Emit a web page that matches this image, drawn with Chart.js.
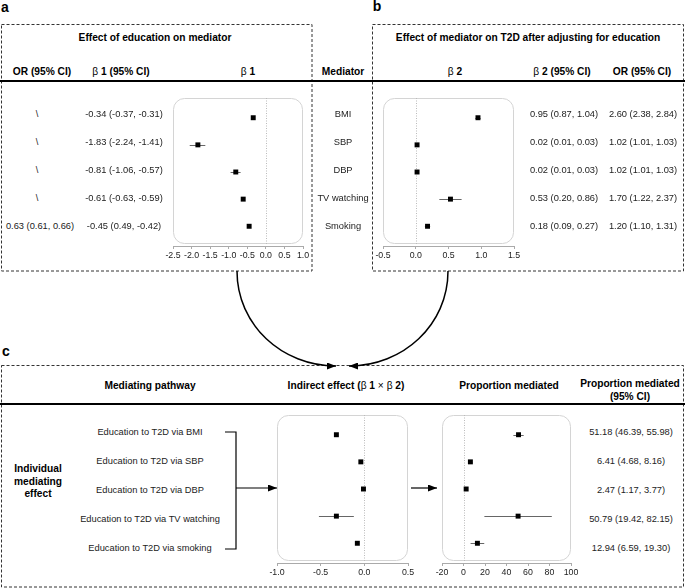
<!DOCTYPE html>
<html>
<head>
<meta charset="utf-8">
<script src="https://cdn.jsdelivr.net/npm/chart.js@4.4.1/dist/chart.umd.min.js"></script>
<style>
body { margin: 0; background: #fff; }
#fig { position: relative; width: 685px; height: 588px; font-family: "Liberation Sans", Arial, sans-serif; color: #222; overflow: hidden; }
.t { position: absolute; white-space: nowrap; transform: translate(-50%, -50%); font-size: 9.3px; line-height: 1; }
.h { font-weight: bold; font-size: 10.2px; color: #000; }
.h span { font-weight: normal; }
.p { font-weight: bold; font-size: 14px; color: #000; }
canvas { position: absolute; }
svg { position: absolute; left: 0; top: 0; }
</style>
</head>
<body>
<div id="fig">
<svg width="685" height="588">
  <defs>
    <marker id="ah" markerWidth="9" markerHeight="7" refX="9" refY="3.5" orient="auto" markerUnits="userSpaceOnUse">
      <path d="M0,0 L9,3.5 L0,7 z" fill="#000"/>
    </marker>
  </defs>
  <g fill="none" stroke="#333" stroke-width="1" stroke-dasharray="3,2">
    <rect x="1.5" y="24.5" width="310.5" height="246.5"/>
    <rect x="372.5" y="24.5" width="311" height="246.5"/>
    <rect x="1.5" y="365.5" width="682" height="221.5"/>
  </g>
  <g stroke="#000" stroke-width="2">
    <line x1="0" y1="81" x2="685" y2="81"/>
    <line x1="0" y1="404" x2="685" y2="404"/>
  </g>
  <g fill="none" stroke="#000" stroke-width="1.5">
    <path d="M237,271 C237,325 282,366 336,366" marker-end="url(#ah)"/>
    <path d="M448,271 C448,325 403,366 349,366" marker-end="url(#ah)"/>
  </g>
  <g fill="none" stroke="#000" stroke-width="1.2">
    <polyline points="225,432 236,432 236,549 225,549"/>
    <line x1="236" y1="488" x2="277" y2="488" marker-end="url(#ah)"/>
    <line x1="411" y1="488" x2="437" y2="488" marker-end="url(#ah)"/>
  </g>
</svg>
</div>
<script>
// ---- data ----
var mediators = ['BMI', 'SBP', 'DBP', 'TV watching', 'Smoking'];
var pathways = ['Education to T2D via BMI', 'Education to T2D via SBP', 'Education to T2D via DBP',
                'Education to T2D via TV watching', 'Education to T2D via smoking'];

// panel a: education -> mediator
var beta1 = [-0.34, -1.83, -0.81, -0.61, -0.45];
var beta1Lo = [-0.37, -2.05, -0.95, -0.63, -0.49];
var beta1Hi = [-0.31, -1.63, -0.68, -0.59, -0.42];
var beta1Text = ['-0.34 (-0.37, -0.31)', '-1.83 (-2.24, -1.41)', '-0.81 (-1.06, -0.57)', '-0.61 (-0.63, -0.59)', '-0.45 (0.49, -0.42)'];
var or1Text = ['\\', '\\', '\\', '\\', '0.63 (0.61, 0.66)'];
var ticksA = [-2.5, -2.0, -1.5, -1.0, -0.5, 0.0, 0.5, 1.0];

// panel b: mediator -> T2D
var beta2 = [0.95, 0.02, 0.02, 0.53, 0.18];
var beta2Lo = [0.91, 0.01, 0.01, 0.36, 0.14];
var beta2Hi = [0.99, 0.03, 0.03, 0.70, 0.22];
var beta2Text = ['0.95 (0.87, 1.04)', '0.02 (0.01, 0.03)', '0.02 (0.01, 0.03)', '0.53 (0.20, 0.86)', '0.18 (0.09, 0.27)'];
var or2Text = ['2.60 (2.38, 2.84)', '1.02 (1.01, 1.03)', '1.02 (1.01, 1.03)', '1.70 (1.22, 2.37)', '1.20 (1.10, 1.31)'];
var ticksB = [-0.5, 0.0, 0.5, 1.0, 1.5];

// panel c: indirect effect and proportion mediated
var indirect = [-0.32, -0.04, -0.01, -0.32, -0.08];
var indirectLo = [-0.34, -0.05, -0.02, -0.52, -0.10];
var indirectHi = [-0.30, -0.03, 0.00, -0.12, -0.06];
var ticksInd = [-1.0, -0.5, 0.0, 0.5];
var propMed = [51.18, 6.41, 2.47, 50.79, 12.94];
var propLo = [46.39, 4.68, 1.17, 19.42, 6.59];
var propHi = [55.98, 8.16, 3.77, 82.15, 19.30];
var propText = ['51.18 (46.39, 55.98)', '6.41 (4.68, 8.16)', '2.47 (1.17, 3.77)', '50.79 (19.42, 82.15)', '12.94 (6.59, 19.30)'];
var ticksProp = [-20, 0, 20, 40, 60, 80, 100];

// ---- helpers ----
var fig = document.getElementById('fig');
Chart.defaults.font.family = '"Liberation Sans", Arial, sans-serif';

function label(x, y, html, cls) {
  var d = document.createElement('div');
  d.className = 't ' + (cls || '');
  d.style.left = x + 'px';
  d.style.top = y + 'px';
  d.innerHTML = html;
  fig.appendChild(d);
}

function roundRect(ctx, x, y, w, h, r) {
  ctx.beginPath();
  ctx.moveTo(x + r, y);
  ctx.arcTo(x + w, y, x + w, y + h, r);
  ctx.arcTo(x + w, y + h, x, y + h, r);
  ctx.arcTo(x, y + h, x, y, r);
  ctx.arcTo(x, y, x + w, y, r);
  ctx.closePath();
}

// rounded panel, dotted zero line and CI whiskers
var forestPlugin = {
  id: 'forest',
  beforeDatasetsDraw: function(chart) {
    var ctx = chart.ctx, a = chart.chartArea, xs = chart.scales.x, ys = chart.scales.y;
    var ds = chart.data.datasets[0];
    ctx.save();
    roundRect(ctx, a.left + 0.5, a.top + 0.5, a.width - 1, a.height - 3, 11);
    ctx.strokeStyle = '#d4d4d4';
    ctx.lineWidth = 1;
    ctx.stroke();

    var x0 = Math.round(xs.getPixelForValue(0)) + 0.5;
    ctx.setLineDash([1, 1.5]);
    ctx.strokeStyle = '#bbb';
    ctx.beginPath();
    ctx.moveTo(x0, a.top);
    ctx.lineTo(x0, a.bottom - 2);
    ctx.stroke();
    ctx.setLineDash([]);

    ctx.strokeStyle = '#666';
    ds.lo.forEach(function(lo, i) {
      var py = Math.round(ys.getPixelForValue(i)) + 0.5;
      ctx.beginPath();
      ctx.moveTo(xs.getPixelForValue(lo), py);
      ctx.lineTo(xs.getPixelForValue(ds.hi[i]), py);
      ctx.stroke();
    });
    ctx.restore();
  }
};

function forest(box, vals, lo, hi, ticks, fmt) {
  var padX = 16, padTop = 2, axisH = 20;
  var canvas = document.createElement('canvas');
  canvas.width = box.w + 2 * padX;
  canvas.height = box.h + padTop + axisH;
  canvas.style.left = (box.x - padX) + 'px';
  canvas.style.top = (box.y - padTop) + 'px';
  fig.appendChild(canvas);
  return new Chart(canvas, {
    type: 'scatter',
    data: {
      datasets: [{
        data: vals.map(function(v, i) { return { x: v, y: i }; }),
        lo: lo,
        hi: hi,
        pointStyle: 'rect',
        pointRadius: 3.5,
        pointBackgroundColor: '#000',
        pointBorderWidth: 0
      }]
    },
    options: {
      responsive: false,
      animation: false,
      devicePixelRatio: 1,
      layout: { padding: { left: padX, right: padX, top: padTop, bottom: 0 } },
      plugins: { legend: { display: false }, tooltip: { enabled: false } },
      scales: {
        x: {
          type: 'linear',
          min: ticks[0],
          max: ticks[ticks.length - 1],
          afterBuildTicks: function(s) { s.ticks = ticks.map(function(v) { return { value: v }; }); },
          afterFit: function(s) { s.height = axisH; },
          grid: { drawOnChartArea: false, tickLength: 3, color: '#aaa' },
          border: { color: '#aaa' },
          ticks: { font: { size: 8.8 }, color: '#222', padding: 1, maxRotation: 0, autoSkip: false,
                   callback: function(v) { return fmt(v); } }
        },
        y: { type: 'linear', display: false, reverse: true, min: -0.727, max: 4.727 }
      }
    },
    plugins: [forestPlugin]
  });
}

function oneDec(v) { return v.toFixed(1); }
function whole(v) { return String(Math.round(v)); }

// ---- the four forest panels ----
forest({ x: 173, y: 96, w: 130, h: 150 }, beta1, beta1Lo, beta1Hi, ticksA, oneDec);
forest({ x: 383, y: 96, w: 131, h: 150 }, beta2, beta2Lo, beta2Hi, ticksB, oneDec);
forest({ x: 277, y: 413, w: 131, h: 150 }, indirect, indirectLo, indirectHi, ticksInd, oneDec);
forest({ x: 442, y: 413, w: 129, h: 150 }, propMed, propLo, propHi, ticksProp, whole);

// ---- text ----
label(5, 7, 'a', 'p');
label(377, 6, 'b', 'p');
label(6, 351, 'c', 'p');

label(155, 38, 'Effect of education on mediator', 'h');
label(528, 38, 'Effect of mediator on T2D after adjusting for education', 'h');

label(42, 72, 'OR (95% CI)', 'h');
label(121, 72, '<span>β</span> 1 (95% CI)', 'h');
label(248, 72, '<span>β</span> 1', 'h');
label(343, 72, 'Mediator', 'h');
label(455, 72, '<span>β</span> 2', 'h');
label(562, 72, '<span>β</span> 2 (95% CI)', 'h');
label(642, 72, 'OR (95% CI)', 'h');

mediators.forEach(function(m, i) {
  var y = 115 + i * 28;
  label(i < 4 ? 37 : 40, y, or1Text[i]);
  label(124, y, beta1Text[i]);
  label(343, y, m);
  label(564, y, beta2Text[i]);
  label(643, y, or2Text[i]);
});

label(150, 386, 'Mediating pathway', 'h');
label(346, 386, 'Indirect effect (<span>β</span> 1 <span>×</span> <span>β</span> 2)', 'h');
label(509, 386, 'Proportion mediated', 'h');
label(630, 384, 'Proportion mediated', 'h');
label(630, 397, '(95% CI)', 'h');

label(38, 469, 'Individual', 'h');
label(38, 481.5, 'mediating', 'h');
label(38, 494, 'effect', 'h');

pathways.forEach(function(p, i) {
  var y = 433 + i * 29;
  label(150, y, p);
  label(631, y, propText[i]);
});
</script>
</body>
</html>
